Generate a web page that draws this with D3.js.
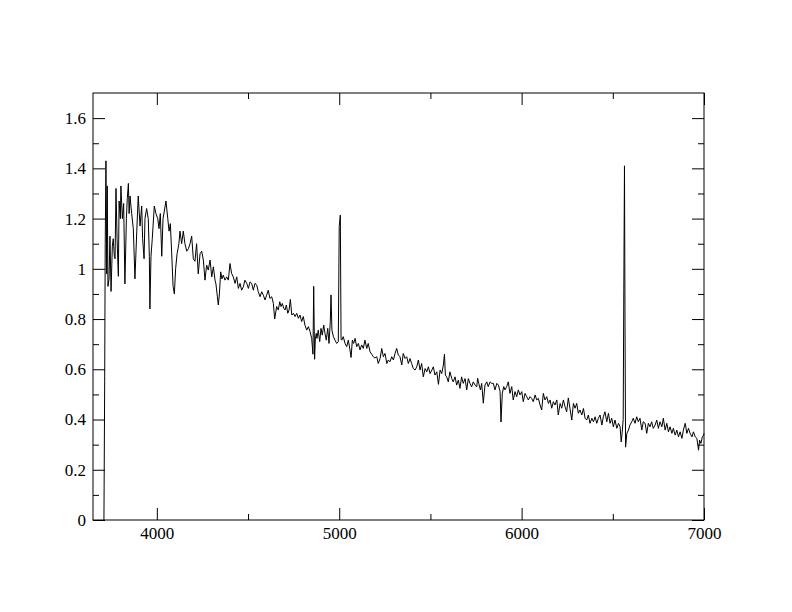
<!DOCTYPE html>
<html>
<head>
<meta charset="utf-8">
<script src="https://cdn.jsdelivr.net/npm/d3@7/dist/d3.min.js"></script>
<style>
html,body{margin:0;padding:0;background:#fff;}
svg{display:block;}
</style>
</head>
<body>
<svg id="chart" width="792" height="612"></svg>
<script>
// Wavelength (Angstrom) and flux values
const wavelength = [
3710,3714,3717,3721,3725,3728,3732,3738,3743,3749,3756,3761,3767,3771,3776,3782,3789,3793,3800,3803,
3811,3818,3825,3833,3838,3844,3848,3853,3862,3871,3880,3890,3898,3908,3917,3922,3930,3935,3944,3953,
3959,3962,3968,3975,3986,3995,4005,4012,4019,4027,4034,4041,4050,4060,4067,4074,4081,4089,4096,4103,
4111,4121,4127,4136,4145,4154,4164,4173,4182,4191,4200,4209,4218,4227,4237,4246,4255,4264,4273,4282,
4292,4301,4310,4319,4324,4332,4337,4343,4350,4357,4364,4374,4383,4392,4401,4410,4419,4429,4438,4447,
4456,4465,4474,4483,4493,4502,4511,4520,4529,4538,4548,4556,4566,4575,4584,4593,4602,4611,4620,4630,
4639,4646,4657,4666,4674,4681,4688,4696,4703,4710,4718,4725,4732,4740,4749,4758,4767,4776,4785,4794,
4803,4812,4822,4831,4840,4849,4856,4860,4865,4869,4874,4878,4885,4893,4900,4907,4915,4922,4929,4937,
4944,4951,4955,4960,4968,4977,4986,4995,5000,5006,5010,5014,5022,5032,5041,5050,5059,5065,5072,5079,
5087,5096,5105,5114,5123,5132,5141,5151,5159,5169,5178,5187,5196,5206,5214,5224,5233,5242,5251,5261,
5269,5278,5288,5297,5306,5315,5324,5333,5343,5351,5361,5370,5379,5388,5397,5406,5416,5425,5434,5443,
5452,5461,5471,5480,5489,5498,5508,5516,5525,5535,5544,5553,5562,5571,5577,5582,5589,5598,5607,5617,
5625,5635,5644,5653,5662,5671,5680,5690,5699,5708,5717,5726,5735,5745,5754,5759,5765,5774,5781,5790,
5799,5809,5817,5827,5836,5845,5854,5864,5873,5882,5887,5894,5902,5909,5918,5927,5936,5946,5954,5964,
5973,5982,5991,6001,6009,6019,6028,6037,6046,6055,6064,6074,6083,6092,6101,6110,6119,6128,6138,6147,
6156,6165,6174,6183,6193,6201,6211,6220,6229,6238,6247,6256,6265,6275,6284,6293,6302,6311,6320,6330,
6339,6348,6357,6366,6375,6385,6394,6403,6412,6421,6430,6440,6448,6457,6467,6476,6485,6494,6503,6512,
6522,6531,6540,6546,6551,6557,6560,6564,6567,6570,6577,6586,6594,6604,6612,6622,6631,6640,6649,6659,
6667,6677,6686,6695,6704,6713,6722,6732,6741,6750,6759,6769,6777,6787,6796,6805,6814,6824,6832,6842,
6851,6860,6869,6879,6887,6897,6906,6915,6924,6934,6942,6952,6961,6970,6976,6983,6991,6998,7000
];
const flux = [
0.0,0.55,1.1,1.43,0.98,1.33,0.93,0.96,1.13,0.91,1.09,1.12,1.05,1.04,1.32,1.12,0.97,1.27,1.2,1.33,
1.2,1.26,0.94,1.2,1.28,1.34,1.22,1.29,1.22,1.16,0.96,1.15,1.29,1.17,1.25,1.12,1.04,1.2,1.24,1.2,
1.05,0.84,1.05,1.12,1.25,1.22,1.2,1.16,1.22,1.05,1.2,1.23,1.27,1.2,1.15,1.18,1.07,0.93,0.9,1.0,
1.06,1.1,1.15,1.1,1.15,1.1,1.07,1.08,1.1,1.13,1.04,1.03,1.1,0.98,1.06,1.07,1.035,0.955,1.015,0.995,
1.035,0.968,1.008,0.955,0.94,0.889,0.856,0.9,0.988,0.96,0.975,0.955,0.968,0.955,1.021,0.982,0.968,0.942,0.968,0.922,
0.942,0.915,0.928,0.955,0.942,0.922,0.948,0.942,0.915,0.942,0.935,0.909,0.889,0.909,0.895,0.876,0.895,0.915,0.882,0.889,
0.862,0.80,0.85,0.836,0.869,0.85,0.862,0.843,0.836,0.856,0.823,0.836,0.878,0.816,0.823,0.81,0.823,0.803,0.816,0.79,
0.81,0.776,0.756,0.77,0.75,0.723,0.66,0.93,0.64,0.72,0.743,0.723,0.756,0.71,0.763,0.736,0.776,0.743,0.716,0.763,
0.703,0.79,0.896,0.756,0.73,0.716,0.703,0.71,1.168,1.214,0.72,0.716,0.73,0.703,0.69,0.716,0.677,0.647,0.716,0.703,
0.723,0.69,0.703,0.677,0.697,0.683,0.716,0.683,0.703,0.67,0.66,0.65,0.645,0.65,0.623,0.643,0.683,0.65,0.663,0.623,
0.637,0.63,0.65,0.637,0.663,0.683,0.657,0.65,0.617,0.663,0.643,0.65,0.623,0.643,0.623,0.603,0.597,0.61,0.637,0.597,
0.623,0.57,0.603,0.59,0.61,0.583,0.597,0.61,0.577,0.59,0.54,0.597,0.583,0.617,0.66,0.577,0.57,0.55,0.59,0.563,
0.55,0.57,0.537,0.557,0.524,0.57,0.544,0.563,0.518,0.563,0.544,0.53,0.55,0.537,0.53,0.564,0.544,0.518,0.544,0.465,
0.537,0.55,0.531,0.55,0.544,0.544,0.518,0.544,0.537,0.511,0.39,0.504,0.531,0.518,0.531,0.55,0.504,0.531,0.478,0.511,
0.491,0.518,0.498,0.511,0.471,0.504,0.491,0.478,0.491,0.484,0.471,0.498,0.478,0.484,0.458,0.438,0.504,0.478,0.491,0.464,
0.478,0.445,0.471,0.458,0.478,0.418,0.464,0.445,0.478,0.451,0.431,0.486,0.445,0.398,0.464,0.445,0.464,0.425,0.438,0.418,
0.444,0.405,0.398,0.418,0.385,0.405,0.391,0.411,0.385,0.405,0.418,0.378,0.411,0.431,0.391,0.425,0.385,0.405,0.371,0.398,
0.365,0.385,0.371,0.311,0.345,0.40,0.86,1.41,0.78,0.29,0.345,0.358,0.378,0.391,0.405,0.385,0.411,0.391,0.405,0.358,
0.391,0.385,0.345,0.385,0.371,0.391,0.365,0.378,0.398,0.365,0.391,0.371,0.405,0.358,0.385,0.351,0.371,0.345,0.365,0.338,
0.358,0.331,0.351,0.325,0.358,0.385,0.345,0.365,0.345,0.331,0.351,0.331,0.325,0.278,0.318,0.305,0.331,0.338,0.345
];
const xMajorTicks = [4000, 5000, 6000, 7000];
const xMinorTicks = [4500, 5500, 6500];
const yMajorTicks = [0, 0.2, 0.4, 0.6, 0.8, 1, 1.2, 1.4, 1.6];
const yMinorTicks = [0.1, 0.3, 0.5, 0.7, 0.9, 1.1, 1.3, 1.5];
const xDomain = [3650, 7000];
const yDomain = [0, 1.7];

const M = {left: 93, right: 704, top: 93, bottom: 520};
const svg = d3.select("#chart");
const x = d3.scaleLinear().domain(xDomain).range([M.left, M.right]);
const y = d3.scaleLinear().domain(yDomain).range([M.bottom, M.top]);
const FONT = "'Liberation Serif', 'Times New Roman', serif";

const data = wavelength.map((w, i) => ({w, f: flux[i]}));

// spectrum line
svg.append("path")
  .datum(data)
  .attr("fill", "none")
  .attr("stroke", "#000")
  .attr("stroke-width", 1)
  .attr("d", d3.line().x(d => x(d.w)).y(d => y(d.f)));

function styleAxis(g) {
  g.select(".domain").remove();
  g.selectAll(".tick line").attr("stroke", "#000").attr("stroke-width", 1);
  g.selectAll("text").attr("fill", "#000").attr("font-family", FONT).attr("font-size", 17);
}

// bottom
svg.append("g").attr("transform", `translate(0,${M.bottom})`)
  .call(d3.axisBottom(x).tickValues(xMajorTicks).tickSize(-12).tickPadding(6.5).tickFormat(d3.format("d")))
  .call(styleAxis);
svg.append("g").attr("transform", `translate(0,${M.bottom})`)
  .call(d3.axisBottom(x).tickValues(xMinorTicks).tickSize(-6).tickFormat(""))
  .call(styleAxis);
// top
svg.append("g").attr("transform", `translate(0,${M.top})`)
  .call(d3.axisTop(x).tickValues(xMajorTicks).tickSize(-12).tickFormat(""))
  .call(styleAxis);
svg.append("g").attr("transform", `translate(0,${M.top})`)
  .call(d3.axisTop(x).tickValues(xMinorTicks).tickSize(-6).tickFormat(""))
  .call(styleAxis);
// left
svg.append("g").attr("transform", `translate(${M.left},0)`)
  .call(d3.axisLeft(y).tickValues(yMajorTicks).tickSize(-12).tickPadding(7).tickFormat(d3.format("")))
  .call(styleAxis);
svg.append("g").attr("transform", `translate(${M.left},0)`)
  .call(d3.axisLeft(y).tickValues(yMinorTicks).tickSize(-6).tickFormat(""))
  .call(styleAxis);
// right
svg.append("g").attr("transform", `translate(${M.right},0)`)
  .call(d3.axisRight(y).tickValues(yMajorTicks).tickSize(-12).tickFormat(""))
  .call(styleAxis);
svg.append("g").attr("transform", `translate(${M.right},0)`)
  .call(d3.axisRight(y).tickValues(yMinorTicks).tickSize(-6).tickFormat(""))
  .call(styleAxis);

// frame
svg.append("rect")
  .attr("x", M.left).attr("y", M.top)
  .attr("width", M.right - M.left).attr("height", M.bottom - M.top)
  .attr("fill", "none").attr("stroke", "#000").attr("stroke-width", 1);
</script>
</body>
</html>
